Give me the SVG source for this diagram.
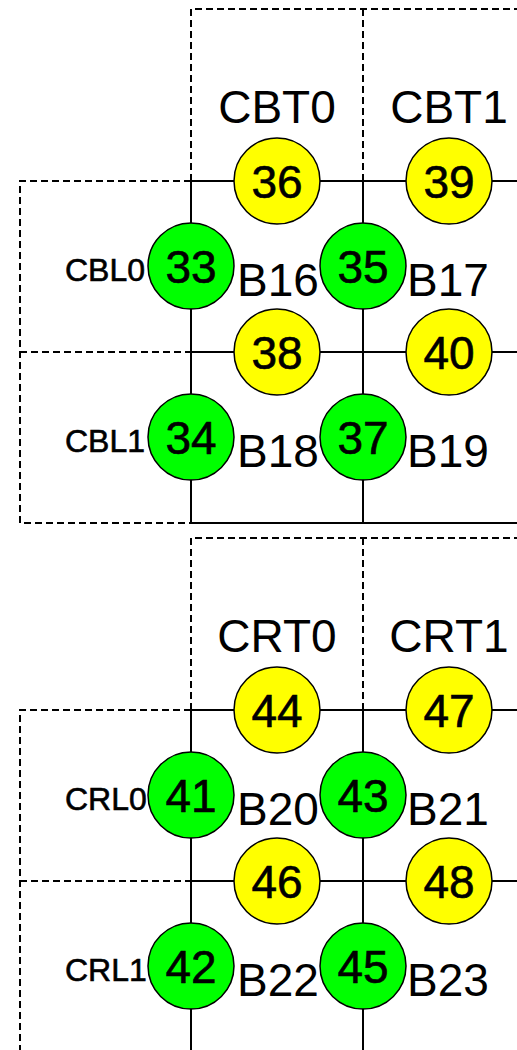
<svg xmlns="http://www.w3.org/2000/svg" width="517" height="1050" viewBox="0 0 517 1050">
<style>
.dash{fill:none;stroke:#000;stroke-width:2;stroke-dasharray:7,4}
.line{fill:none;stroke:#000;stroke-width:2}
.y{fill:#ffff00;stroke:#000;stroke-width:1.5}
.g{fill:#00ff00;stroke:#000;stroke-width:1.5}
.n{font-family:"Liberation Sans",Arial,sans-serif;font-size:46px;text-anchor:middle;fill:#000}
.num{stroke:#000;stroke-width:0.6}
.lb{font-family:"Liberation Sans",Arial,sans-serif;font-size:46px;fill:#000}
.sl{font-family:"Liberation Sans",Arial,sans-serif;font-size:32px;fill:#000;stroke:#000;stroke-width:0.6}
</style>
<rect width="517" height="1050" fill="#fff"/>
<g id="regions">
<path class="dash" d="M191 181V9H517"/>
<path class="dash" d="M363 9V181"/>
<path class="dash" d="M191 181H20V523H191"/>
<path class="dash" d="M20 352H191"/>
<path class="dash" d="M191 710V538H517"/>
<path class="dash" d="M363 538V710"/>
<path class="dash" d="M191 710H20V1052"/>
<path class="dash" d="M20 881H191"/>
</g>
<g id="connectors">
<path class="line" d="M191 181H517M191 352H517M191 523H517M191 181V523M363 181V523"/>
<path class="line" d="M191 710H517M191 881H517M191 1052H517M191 710V1052M363 710V1052"/>
</g>
<g id="labels">
<text class="n" x="277" y="123">CBT0</text>
<text class="n" x="449" y="123">CBT1</text>
<text class="sl" x="65" y="281">CBL0</text>
<text class="sl" x="65" y="452">CBL1</text>
<text class="lb" x="237" y="296">B16</text>
<text class="lb" x="407" y="296">B17</text>
<text class="lb" x="237" y="467">B18</text>
<text class="lb" x="407" y="467">B19</text>
<text class="n" x="277" y="652">CRT0</text>
<text class="n" x="449" y="652">CRT1</text>
<text class="sl" x="65" y="810">CRL0</text>
<text class="sl" x="65" y="981">CRL1</text>
<text class="lb" x="237" y="825">B20</text>
<text class="lb" x="407" y="825">B21</text>
<text class="lb" x="237" y="996">B22</text>
<text class="lb" x="407" y="996">B23</text>
</g>
<g id="n36"><circle class="y" cx="277" cy="181" r="43"/><text class="n num" x="277" y="198">36</text></g>
<g id="n39"><circle class="y" cx="449" cy="181" r="43"/><text class="n num" x="449" y="198">39</text></g>
<g id="n38"><circle class="y" cx="277" cy="352" r="43"/><text class="n num" x="277" y="369">38</text></g>
<g id="n40"><circle class="y" cx="449" cy="352" r="43"/><text class="n num" x="449" y="369">40</text></g>
<g id="n33"><circle class="g" cx="191" cy="266" r="43"/><text class="n num" x="191" y="283">33</text></g>
<g id="n35"><circle class="g" cx="363" cy="266" r="43"/><text class="n num" x="363" y="283">35</text></g>
<g id="n34"><circle class="g" cx="191" cy="437" r="43"/><text class="n num" x="191" y="454">34</text></g>
<g id="n37"><circle class="g" cx="363" cy="437" r="43"/><text class="n num" x="363" y="454">37</text></g>
<g id="n44"><circle class="y" cx="277" cy="710" r="43"/><text class="n num" x="277" y="727">44</text></g>
<g id="n47"><circle class="y" cx="449" cy="710" r="43"/><text class="n num" x="449" y="727">47</text></g>
<g id="n46"><circle class="y" cx="277" cy="881" r="43"/><text class="n num" x="277" y="898">46</text></g>
<g id="n48"><circle class="y" cx="449" cy="881" r="43"/><text class="n num" x="449" y="898">48</text></g>
<g id="n41"><circle class="g" cx="191" cy="795" r="43"/><text class="n num" x="191" y="812">41</text></g>
<g id="n43"><circle class="g" cx="363" cy="795" r="43"/><text class="n num" x="363" y="812">43</text></g>
<g id="n42"><circle class="g" cx="191" cy="966" r="43"/><text class="n num" x="191" y="983">42</text></g>
<g id="n45"><circle class="g" cx="363" cy="966" r="43"/><text class="n num" x="363" y="983">45</text></g>
</svg>
